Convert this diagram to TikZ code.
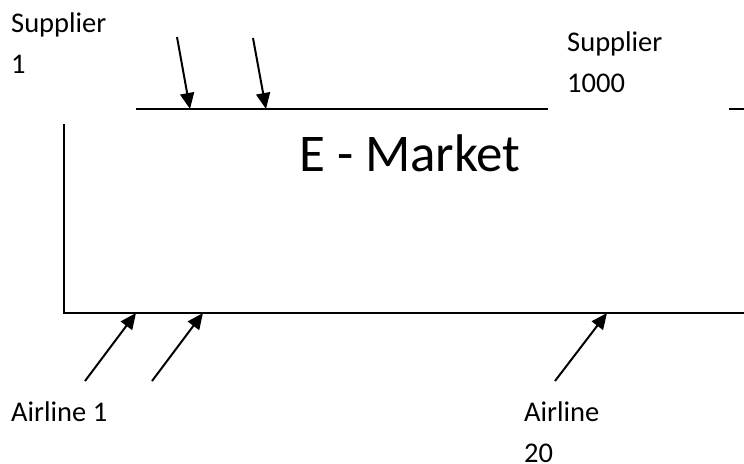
\documentclass[tikz,border=0pt]{standalone}
\usepackage{fontspec}
\setmainfont{Carlito}
\usetikzlibrary{arrows.meta}
\tikzset{
  vora/.style={draw=black, line width=2pt},
  fletxa/.style={-{Triangle[length=16pt,width=14pt]}, draw=black, line width=2pt},
  etiqueta/.style={inner sep=0pt, anchor=base west, align=left,
    font=\fontsize{28.5}{41}\selectfont},
  titol/.style={inner sep=0pt, anchor=base west, font=\fontsize{53}{60}\selectfont},
}

\begin{document}
\begin{tikzpicture}[x=1pt,y=-1pt]
  \useasboundingbox (0,0) rectangle (744,463);

  % Vores del mercat: la superior queda interrompuda.
  \coordinate (sa) at (136,109);
  \coordinate (sb) at (548,109);
  \coordinate (sc) at (729,109);
  \coordinate (sd) at (744,109);
  \coordinate (ea) at (64,124);
  \coordinate (eb) at (64,313);
  \coordinate (ec) at (744,313);
  \draw[vora] (sa)--(sb);
  \draw[vora] (sc)--(sd);
  \draw[vora] (ea)--(eb)--(ec);

  \node[titol] (mercat) at (299,171) {E - Market};

  % Proveidors (l'ancoratge va a la base de l'ultima linia).
  \node[etiqueta] (prov1) at (11,73) {Supplier\\1};
  \node[etiqueta] (prov2) at (567,92) {Supplier\\1000};

  % Aerolinies.
  \node[etiqueta] (aer1) at (11,421) {Airline 1};
  \node[etiqueta] (aer2) at (524,462) {Airline\\20};

  % Fletxes cap a la vora superior.
  \coordinate (p1) at (177,37);
  \coordinate (q1) at (190,109);
  \coordinate (p2) at (253,38);
  \coordinate (q2) at (266,109);
  \draw[fletxa] (p1)--(q1);
  \draw[fletxa] (p2)--(q2);

  % Fletxes cap a la vora inferior.
  \coordinate (p3) at (85,381);
  \coordinate (q3) at (136,313);
  \coordinate (p4) at (152,381);
  \coordinate (q4) at (203,313);
  \coordinate (p5) at (555,381);
  \coordinate (q5) at (607,313);
  \draw[fletxa] (p3)--(q3);
  \draw[fletxa] (p4)--(q4);
  \draw[fletxa] (p5)--(q5);
\end{tikzpicture}
\end{document}
